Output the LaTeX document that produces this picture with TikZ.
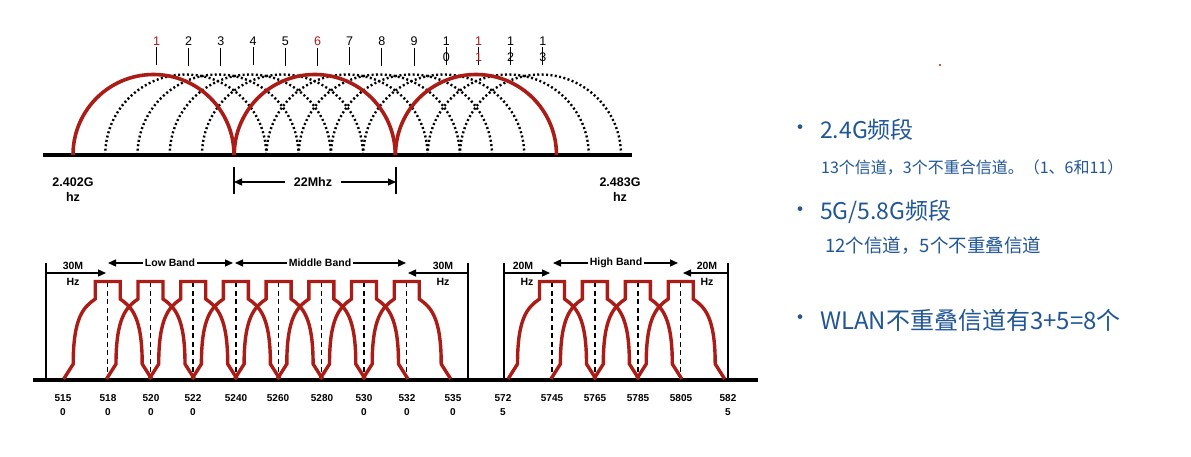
\documentclass[tikz,border=0pt]{standalone}
\usepackage{fontspec}
\setmainfont{Liberation Sans}
\newfontfamily\cjk{Noto Sans CJK SC}
\usetikzlibrary{arrows.meta}
\definecolor{chred}{RGB}{172,28,22}
\definecolor{txtblue}{RGB}{33,86,150}
\tikzset{
  redarc/.style={draw=chred, line width=3.6pt},
  dotarc/.style={draw=black, line width=2.4pt, dash pattern=on 2pt off 2.4pt},
  band/.style={draw=chred, line width=3.4pt},
  cdash/.style={draw=black, line width=1.5pt, dash pattern=on 5pt off 3.5pt},
  axis/.style={draw=black, line width=4pt},
  tick/.style={draw=black, line width=1.1pt},
  chnum/.style={inner sep=0pt, font=\fontsize{12.5}{13}\selectfont},
  freq/.style={inner sep=0pt, align=center, font=\bfseries\fontsize{12.5}{15}\selectfont},
  bandlab/.style={inner sep=1.5pt, font=\bfseries\fontsize{10.5}{12}\selectfont},
  flab/.style={inner sep=0pt, align=center, font=\bfseries\fontsize{10}{14}\selectfont},
  bullet/.style={inner sep=0pt, text=txtblue, font=\cjk\fontsize{22}{24}\selectfont},
  head/.style={anchor=west, inner sep=0pt, text=txtblue, font=\cjk\fontsize{23}{25}\selectfont},
  sub/.style={anchor=west, inner sep=0pt, text=txtblue, font=\cjk\fontsize{16}{18}\selectfont}
}
\begin{document}
\begin{tikzpicture}[x=1pt, y=-1pt, >={Triangle[length=8pt,width=7pt]}]
\useasboundingbox[fill=white] (0,0) rectangle (1191,457);

\draw[axis] (43,155) -- (632,155);
\foreach \i in {2,3,4,5,7,8,9,10,12,13}
  \draw[dotarc] ({153.5+32.25*(\i-1)-80.5},155) arc[start angle=180, end angle=360, radius=80.5];
\foreach \i in {1,6,11}
  \draw[redarc] ({153.5+32.25*(\i-1)-80.5},155) arc[start angle=180, end angle=360, radius=80.5];

\foreach \i/\col in {1/chred,2/black,3/black,4/black,5/black,6/chred,7/black,8/black,9/black} {
  \node[chnum, text=\col] (ch\i) at ({156.5+32.2*(\i-1)},41) {\i};
  \draw[tick] (ch\i.south) ++(0,2) -- ++(0,18);
}
\foreach \i/\d/\col in {10/0/black,11/1/chred,12/2/black,13/3/black} {
  \node[chnum, text=\col] (ch\i) at ({156.5+32.2*(\i-1)},41) {1};
  \draw[tick] (ch\i.south) ++(0,2) -- ++(0,18);
  \node[chnum, text=\col] (ch\i-lo) at ({156.5+32.2*(\i-1)},57) {\d};
}

\node[freq] (lo) at (73,190) {2.402G\\hz};
\node[freq] (hi) at (620,190) {2.483G\\hz};
\node[freq, inner sep=9pt] (w) at (313,182) {22Mhz};
\coordinate (wl) at (234,182);
\coordinate (wr) at (396,182);
\draw[line width=1.1pt] (234,167) -- (234,194) (396,167) -- (396,194);
\draw[->, line width=1.3pt] (w) -- (wl);
\draw[->, line width=1.3pt] (w) -- (wr);

\draw[axis] (33,380) -- (758,380);
\foreach \x in {46,468,504,728}
  \draw[line width=1.2pt] (\x,263) -- (\x,380);
\foreach \c in {107.7,150.5,193.2,235.9,278.6,321.3,364,406.7,552,594.9,637.8,680.7}
  \draw[cdash] (\c,282) -- (\c,379);
\foreach \c in {107.7,150.5,193.2,235.9,278.6,321.3,364,406.7,552,594.9,637.8,680.7}
  \draw[band] (\c-44,379) -- (\c-34.5,364) .. controls (\c-34.5,317) and (\c-24,307) .. (\c-12.5,299)
    -- (\c-12.5,281.5) -- (\c+12.5,281.5) -- (\c+12.5,299)
    .. controls (\c+24,307) and (\c+34.5,317) .. (\c+34.5,364) -- (\c+44,379);

\foreach \c/\t [count=\k] in {63/{515\\0},108/{518\\0},151/{520\\0},193/{522\\0},236/{5240\\\mbox{}},
    278/{5260\\\mbox{}},322/{5280\\\mbox{}},364/{530\\0},407/{532\\0},453/{535\\0},
    503/{572\\5},552/{5745\\\mbox{}},595/{5765\\\mbox{}},638/{5785\\\mbox{}},681/{5805\\\mbox{}},728/{582\\5}}
  \node[flab, anchor=north] (fb\k) at (\c,394) {\t};

\node[bandlab] (m1) at (73,266) {30M};
\node[bandlab] (m1h) at (73,282) {Hz};
\coordinate (m1a) at (46,273);
\coordinate (m1b) at (106,273);
\draw[->, line width=1.3pt] (m1a) -- (m1b);
\node[bandlab, fill=white] (lb) at (170,263) {Low Band};
\coordinate (lb1) at (108,263);
\coordinate (lb2) at (233,263);
\draw[->, line width=1.3pt] (lb) -- (lb1);
\draw[->, line width=1.3pt] (lb) -- (lb2);
\node[bandlab, fill=white] (mb) at (320,263) {Middle Band};
\coordinate (mb1) at (235,263);
\coordinate (mb2) at (406,263);
\draw[->, line width=1.3pt] (mb) -- (mb1);
\draw[->, line width=1.3pt] (mb) -- (mb2);
\node[bandlab] (m2) at (443,266) {30M};
\node[bandlab] (m2h) at (443,282) {Hz};
\coordinate (m2a) at (468,273);
\coordinate (m2b) at (408,273);
\draw[->, line width=1.3pt] (m2a) -- (m2b);

\node[bandlab] (m3) at (523,266) {20M};
\node[bandlab] (m3h) at (527,282) {Hz};
\coordinate (m3a) at (504,273);
\coordinate (m3b) at (550,273);
\draw[->, line width=1.3pt] (m3a) -- (m3b);
\node[bandlab, fill=white] (hb) at (616,263) {High Band};
\coordinate (hb1) at (553,263);
\coordinate (hb2) at (678,263);
\draw[->, line width=1.3pt] (hb) -- (hb1);
\draw[->, line width=1.3pt] (hb) -- (hb2);
\node[bandlab] (m4) at (707,266) {20M};
\node[bandlab] (m4h) at (707,282) {Hz};
\coordinate (m4a) at (728,273);
\coordinate (m4b) at (683,273);
\draw[->, line width=1.3pt] (m4a) -- (m4b);

\fill[chred] (940,65) circle (1.2);

\node[bullet] (b1) at (800,130) {•};
\node[head] (t1) at (820,130) {2.4G频段};
\node[sub] (t2) at (821,168) {13个信道，3个不重合信道。（1、6和11）};
\node[bullet] (b2) at (800,212) {•};
\node[head] (t3) at (820,212) {5G/5.8G频段};
\node[sub, font=\cjk\fontsize{18.5}{20}\selectfont] (t4) at (825,246) {12个信道，5个不重叠信道};
\node[bullet] (b3) at (800,320) {•};
\node[head, font=\cjk\fontsize{24}{26}\selectfont] (t5) at (820,320) {WLAN不重叠信道有3+5=8个};
\end{tikzpicture}
\end{document}
